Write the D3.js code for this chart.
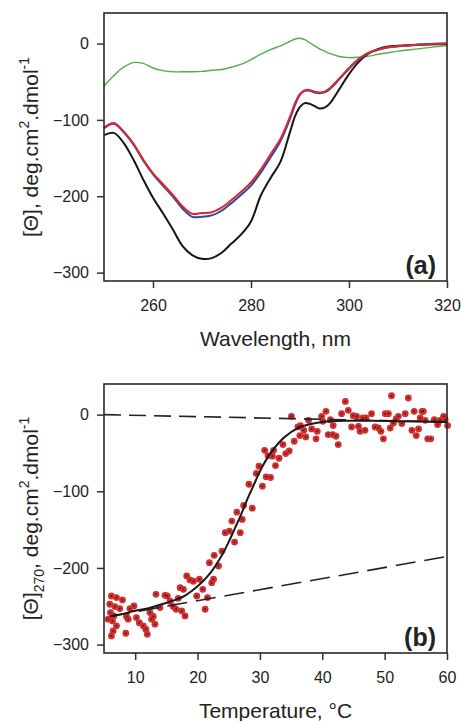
<!DOCTYPE html>
<html>
<head>
<meta charset="utf-8">
<script src="https://cdn.jsdelivr.net/npm/d3@7"></script>
<style>
  body { margin: 0; background: white; }
  text { font-family: "Liberation Sans", Arial, sans-serif; }
</style>
</head>
<body>
<div id="paper"></div>
<script>
// panel (a): CD spectra
const wavelengths = [250, 252, 254, 256, 258, 260, 262, 264, 266, 268, 270, 272, 274, 276, 278, 280, 282, 284, 286, 288, 289, 290, 291, 292, 293, 294, 295, 296, 298, 300, 302, 304, 306, 308, 310, 314, 320];
const redSpec = [-110, -104, -115, -131, -152, -170, -184, -198, -213, -223, -222, -221, -215, -205, -194, -182, -165, -145, -125, -95, -78, -66, -61, -61, -63, -64, -63, -59, -46, -32, -20, -12, -8, -5, -3.5, -1.5, 0];
const blueSpec = [-111, -105, -116, -132, -153, -171, -186, -200, -216, -227, -227, -225, -219, -209, -198, -186, -169, -149, -128, -98, -80, -67, -62, -62, -64, -65, -64, -60, -47, -33, -21, -12.5, -8, -5, -3.5, -1.5, 0];
const blackSpec = [-120, -117, -130, -152, -178, -202, -222, -243, -265, -277, -282, -281, -274, -262, -250, -233, -199, -176, -155, -115, -95, -83, -78, -79, -82, -85, -84, -79, -60, -40, -24, -13, -7, -4, -3, -1.5, -0.5];
const greenSpec = [-56, -42, -31, -25, -26, -32, -35.5, -37, -37, -37, -36.5, -35, -34, -31, -27, -21, -14, -8, -3, 3, 6, 7, 5, 1, -3, -7, -10, -13, -17, -18.5, -18, -16.5, -14, -12, -10, -7, -2.5];

// panel (b): melting curve at 270 nm
const meltTemps = [6.19, 7.0, 7.96, 5.93, 6.74, 7.54, 6.03, 6.58, 5.66, 6.35, 7.0, 6.46, 6.19, 8.6, 9.15, 9.8, 8.88, 8.5, 10.2, 10.65, 11.3, 11.7, 11.94, 12.37, 12.9, 12.63, 13.17, 13.33, 13.98, 14.78, 15.15, 15.6, 16.1, 16.55, 16.9, 17.2, 17.73, 17.46, 18.0, 18.26, 18.8, 19.34, 20.3, 19.87, 20.84, 21.22, 21.6, 22.28, 22.56, 21.9, 22.67, 23.36, 23.9, 24.44, 25.1, 25.5,
  25.94, 26.85, 26.3, 27.17, 27.39, 28.78, 28.24, 30.4, 29.85, 29.43, 31.0, 31.7, 30.76, 31.3, 32.0, 32.2, 33.07, 32.5, 33.7, 34.14, 34.7, 35.5, 35.06, 36.1, 36.5, 37.04, 36.4, 37.36, 37.8, 39.0, 39.2, 38.3,
  39.9, 40.6, 40.1, 40.95, 41.3, 41.66, 41.75, 42.2, 42.56, 43.1, 43.7, 44.17, 44.7, 44.97, 45.5, 45.8, 46.05, 46.5, 46.85, 47.0, 47.9, 48.47, 49.0, 49.4, 49.8, 50.1, 50.6, 50.9, 51.1, 51.4, 51.85, 52.2, 52.76, 53.3, 53.8, 54.37, 54.74, 55.07, 55.44, 55.7, 56.0, 56.2, 56.5, 56.9, 57.4, 57.96, 58.5, 58.9, 59.46, 59.7, 60.1];
const meltValues = [-236.6, -238.7, -241.8, -247.4, -250.4, -253, -258.2, -262.6, -266.9, -269.1, -275.6, -282.2, -288.7, -263.4, -253, -249.6, -266.9, -285.2, -264.8, -271.4, -275.6, -279.9, -286.5, -258.2, -263.4, -266.9, -273.4, -234.4, -251.7, -235.7, -236.6, -243.5, -250.4, -253.9, -239.6, -225.7, -227.9, -256.1, -262.6, -210.5, -215.7, -217.4, -214.8, -236.6, -227.9, -253.9, -238.7, -219.2, -214.8, -193.1, -183.6, -197.5, -178, -154, -151.9, -138.9,
  -166.3, -154, -127.2, -136.7, -118.5, -122, -90.8, -93.3, -67.3, -76.8, -81.1, -82, -46.5, -53.4, -54.2, -46.5, -56.9, -66.4, -39, -50.8, -47.3, -34.7, -2.2, -16, -14.3, -20.4, -27.3, -29, -7.4, -31.6, -21.7, -18.6,
  -2.2, 4.3, -8.7, -26, -6.5, -26, -14.3, -28.2, -39, 1.3, 17.3, 5.6, -16, -1.3, -2.2, -15.2, -21.7, -4.3, -20.4, -4.3, 1.3, -16, -17.4, -21.7, -31.6, 1.3, 1.3, -17.4, 24.7, -10.9, -5.6, -2.2, -11.7, 1.3, 21.7, -20.4, 4.3, -27.3, -18.6, -4.3, 4.3, 4.3, -7.4, -31.6, -31.6, -6.5, -13, -7.4, -2.2, -6.5, -14.3];

const fitTemps = [6, 8, 10, 12, 14, 16, 18, 20, 22, 24, 25, 26, 27, 28, 29, 30, 31, 32, 33, 34, 36, 38, 40, 44, 48, 52, 56, 60];
const fitValues = [-263, -260, -256, -253, -248, -243, -236, -224, -207, -182, -166, -148, -130, -110, -92, -74, -59, -47, -37, -29, -18, -12.5, -9.5, -8, -8, -8.5, -9, -9.5];

const upperBaseT = [5, 60];
const upperBaseV = [0, -9.5];
const lowerBaseT = [6, 60];
const lowerBaseV = [-263, -185];

const yTicks = [0, -100, -200, -300];
const xTicksA = [260, 280, 300, 320];
const xTicksB = [10, 20, 30, 40, 50, 60];

const svg = d3.select("#paper")
  .append("svg")
  .attr("width", 461)
  .attr("height", 721)
  .style("background-color", "white");

const L = 104, R = 447;

function frame(top, bottom, x, y, xTicks, xTitle, yTitleParts, tag) {
  const g = svg.append("g");

  g.append("g")
    .attr("transform", `translate(${L},0)`)
    .call(d3.axisLeft(y).tickValues(yTicks).tickSize(7).tickPadding(8))
    .call(a => a.select(".domain").remove())
    .call(a => a.selectAll("text").attr("font-size", "16px").attr("fill", "#222").attr("font-family", null))
    .call(a => a.selectAll("line").attr("stroke", "#333").attr("stroke-width", 1.5));

  g.append("g")
    .attr("transform", `translate(0,${bottom})`)
    .call(d3.axisBottom(x).tickValues(xTicks).tickSize(7).tickPadding(12))
    .call(a => a.select(".domain").remove())
    .call(a => a.selectAll("text").attr("font-size", "16px").attr("fill", "#222").attr("font-family", null))
    .call(a => a.selectAll("line").attr("stroke", "#333").attr("stroke-width", 1.5));

  g.append("text")
    .attr("x", (L + R) / 2)
    .attr("y", bottom + 65)
    .attr("text-anchor", "middle")
    .attr("font-size", "21px")
    .attr("fill", "#222")
    .text(xTitle);

  const yt = g.append("text")
    .attr("transform", `translate(38,${(top + bottom) / 2}) rotate(-90)`)
    .attr("text-anchor", "middle")
    .attr("font-size", "21px")
    .attr("fill", "#222");
  let shift = 0;
  yTitleParts.forEach(p => {
    const target = p.s === 1 ? -9 : (p.s === -1 ? 6 : 0);
    yt.append("tspan")
      .attr("dy", target - shift)
      .attr("font-size", p.s === 0 ? "21px" : "14px")
      .text(p.t);
    shift = target;
  });

  g.append("text")
    .attr("x", 436)
    .attr("y", bottom - 7)
    .attr("text-anchor", "end")
    .attr("font-size", "25px")
    .attr("font-weight", "bold")
    .attr("fill", "#222")
    .text(tag);

  return g;
}

// ---- panel (a)
const xa = d3.scaleLinear().domain([250, 320]).range([L, R]);
const ya = d3.scaleLinear().domain([-311, 40]).range([281, 13]);

const spectra = [
  { vals: greenSpec, color: "#4db04a", w: 1.4 },
  { vals: blackSpec, color: "#151515", w: 2 },
  { vals: blueSpec, color: "#2848a8", w: 2 },
  { vals: redSpec, color: "#e0262b", w: 2 }
];
const lineA = d3.line().curve(d3.curveCatmullRom.alpha(0.5));

svg.selectAll(".spec")
  .data(spectra)
  .join("path")
  .attr("class", "spec")
  .attr("d", d => lineA(wavelengths.map((w, i) => [xa(w), ya(d.vals[i])])))
  .attr("fill", "none")
  .attr("stroke", d => d.color)
  .attr("stroke-width", d => d.w);

frame(13, 281, xa, ya, xTicksA, "Wavelength, nm",
  [{ t: "[Θ], deg.cm", s: 0 }, { t: "2", s: 1 }, { t: ".dmol", s: 0 }, { t: "-1", s: 1 }], "(a)");

svg.append("rect")
  .attr("x", L).attr("y", 13)
  .attr("width", R - L).attr("height", 281 - 13)
  .attr("fill", "none")
  .attr("stroke", "#2a2a2a")
  .attr("stroke-width", 1.6);

// ---- panel (b)
const xb = d3.scaleLinear().domain([5, 60]).range([L, R]);
const yb = d3.scaleLinear().domain([-311, 40]).range([653, 384]);

const meltPts = meltTemps.map((t, i) => ({ t: t, v: meltValues[i] }));

svg.selectAll(".dot")
  .data(meltPts)
  .join("circle")
  .attr("class", "dot")
  .attr("cx", d => xb(d.t))
  .attr("cy", d => yb(d.v))
  .attr("r", 3.4)
  .attr("fill", "#cf3130");

svg.selectAll(".dotc")
  .data(meltPts)
  .join("circle")
  .attr("class", "dotc")
  .attr("cx", d => xb(d.t))
  .attr("cy", d => yb(d.v))
  .attr("r", 1)
  .attr("fill", "#6a1414");

const line = d3.line();
svg.append("path")
  .attr("d", line(upperBaseT.map((t, i) => [xb(t), yb(upperBaseV[i])])))
  .attr("fill", "none")
  .attr("stroke", "#222")
  .attr("stroke-width", 1.6)
  .attr("stroke-dasharray", "17,8");

svg.append("path")
  .attr("d", line(lowerBaseT.map((t, i) => [xb(t), yb(lowerBaseV[i])])))
  .attr("fill", "none")
  .attr("stroke", "#222")
  .attr("stroke-width", 1.6)
  .attr("stroke-dasharray", "20,9");

svg.append("path")
  .attr("d", d3.line().curve(d3.curveCatmullRom.alpha(0.5))(fitTemps.map((t, i) => [xb(t), yb(fitValues[i])])))
  .attr("fill", "none")
  .attr("stroke", "#1a1a1a")
  .attr("stroke-width", 2);

frame(384, 653, xb, yb, xTicksB, "Temperature, °C",
  [{ t: "[Θ]", s: 0 }, { t: "270", s: -1 }, { t: ", deg.cm", s: 0 }, { t: "2", s: 1 }, { t: ".dmol", s: 0 }, { t: "-1", s: 1 }], "(b)");

svg.append("rect")
  .attr("x", L).attr("y", 384)
  .attr("width", R - L).attr("height", 653 - 384)
  .attr("fill", "none")
  .attr("stroke", "#2a2a2a")
  .attr("stroke-width", 1.6);
</script>
</body>
</html>
